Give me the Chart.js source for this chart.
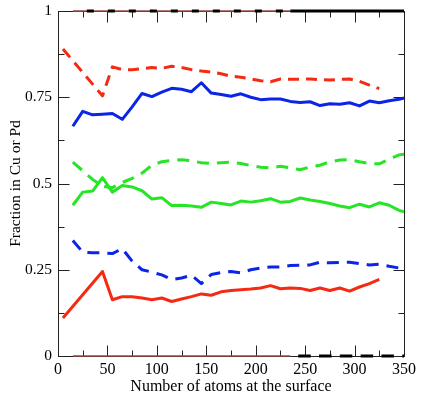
<!DOCTYPE html>
<html><head><meta charset="utf-8">
<script src="https://cdn.jsdelivr.net/npm/chart.js@4/dist/chart.umd.min.js"></script>
<style>html,body{margin:0;padding:0;background:#fff}</style>
</head><body>
<canvas id="c" width="436" height="399"></canvas>
<script>
// x positions (number of atoms at the surface)
const xRed = [5,45,55,65,75,85,95,105,115,125,135,145,155,165,175,185,195,205,215,225,235,245,255,265,275,285,295,305,315,325];
const xFull = [15,25,35,45,55,65,75,85,95,105,115,125,135,145,155,165,175,185,195,205,215,225,235,245,255,265,275,285,295,305,315,325,335,345,350];

// series values (fraction in Cu or Pd)
const redSolid = [0.110,0.245,0.163,0.172,0.172,0.168,0.163,0.168,0.158,0.165,0.172,0.180,0.176,0.186,0.190,0.192,0.194,0.197,0.204,0.195,0.197,0.196,0.190,0.197,0.190,0.197,0.188,0.200,0.210,0.222];
const redDashed = [0.890,0.754,0.838,0.830,0.830,0.833,0.836,0.834,0.840,0.836,0.830,0.826,0.823,0.818,0.811,0.808,0.803,0.798,0.795,0.803,0.802,0.802,0.803,0.801,0.800,0.802,0.803,0.796,0.785,0.775];
const blueSolid = [0.666,0.709,0.699,0.701,0.703,0.686,0.722,0.761,0.752,0.765,0.776,0.773,0.766,0.792,0.762,0.758,0.753,0.760,0.750,0.743,0.745,0.745,0.738,0.735,0.737,0.726,0.731,0.730,0.734,0.725,0.739,0.734,0.740,0.744,0.748];
const blueDashed = [0.335,0.301,0.299,0.299,0.297,0.311,0.275,0.250,0.243,0.235,0.222,0.226,0.234,0.210,0.236,0.242,0.245,0.241,0.250,0.255,0.258,0.258,0.262,0.263,0.264,0.272,0.270,0.271,0.272,0.268,0.264,0.266,0.260,0.255,0.253];
const greenSolid = [0.437,0.475,0.478,0.517,0.475,0.494,0.490,0.479,0.455,0.459,0.436,0.437,0.435,0.431,0.446,0.442,0.438,0.449,0.446,0.450,0.456,0.446,0.448,0.458,0.452,0.448,0.442,0.435,0.430,0.440,0.432,0.444,0.437,0.422,0.418];
const greenDashed = [0.562,0.537,0.512,0.492,0.488,0.503,0.515,0.530,0.553,0.563,0.567,0.569,0.566,0.560,0.558,0.560,0.562,0.558,0.552,0.547,0.545,0.550,0.545,0.540,0.548,0.553,0.563,0.568,0.569,0.563,0.558,0.557,0.570,0.583,0.585];

// series lying on the frame
const xEdgeA = [15,235];
const xEdgeB = [235,350];
const xEdgeC = [243,350];
const edgeTop = [1,1];
const edgeBottom = [0,0];

// axis ticks
const xTickStep = 50, xMinorStep = 25;
const yTickStep = 0.25, yMinorStep = 0.125;

const pts = (xs, ys) => xs.map((x, i) => ({x, y: ys[i]}));

const RED = '#f52a12', BLUE = '#0b25e6', GREEN = '#27e427', BROWN = '#9a4a44';

function ds(data, color, dash, width, extra) {
  return Object.assign({
    data, borderColor: color, backgroundColor: color, borderWidth: width,
    borderDash: dash || [], pointRadius: 0, tension: 0, fill: false, clip: false,
    borderCapStyle: 'butt', borderJoinStyle: 'round'
  }, extra || {});
}

const frame = {
  id: 'frame',
  beforeDatasetsDraw(chart) {
    const {ctx, chartArea: a, scales: {x, y}} = chart;
    ctx.save();
    ctx.strokeStyle = '#222';
    ctx.lineWidth = 1;
    const L = Math.round(a.left) + 0.5, R = Math.round(a.right) + 0.5;
    const T = Math.round(a.top) + 0.5, B = Math.round(a.bottom) + 0.5;
    ctx.strokeRect(L, T, R - L, B - T);
    ctx.beginPath();
    for (let v = x.min; v <= x.max + 1e-9; v += xMinorStep) {
      const len = (Math.abs(v % xTickStep) < 1e-9) ? 11 : 6;
      const px = Math.round(x.getPixelForValue(v)) + 0.5;
      ctx.moveTo(px, B); ctx.lineTo(px, B - len);
      ctx.moveTo(px, T); ctx.lineTo(px, T + len);
    }
    for (let v = y.min; v <= y.max + 1e-9; v += yMinorStep) {
      const r = v / yTickStep;
      const len = (Math.abs(r - Math.round(r)) < 1e-9) ? 11 : 6;
      const py = Math.round(y.getPixelForValue(v)) + 0.5;
      ctx.moveTo(L, py); ctx.lineTo(L + len, py);
      ctx.moveTo(R, py); ctx.lineTo(R - len, py);
    }
    ctx.stroke();
    ctx.restore();
  }
};

const FONT = 'Liberation Serif, Times New Roman, serif';

new Chart(document.getElementById('c'), {
  type: 'line',
  data: {
    datasets: [
      ds(pts(xRed, redSolid), RED, [], 3),
      ds(pts(xRed, redDashed), RED, [11, 7], 3),
      ds(pts(xFull, blueSolid), BLUE, [], 3),
      ds(pts(xFull, blueDashed), BLUE, [12, 8], 3),
      ds(pts(xFull, greenSolid), GREEN, [], 3),
      ds(pts(xFull, greenDashed), GREEN, [12, 8], 3),
      ds(pts(xEdgeA, edgeTop), '#000', [7, 14], 3, {borderDashOffset: 7}),
      ds(pts(xEdgeB, edgeTop), '#000', [], 3),
      ds(pts(xEdgeC, edgeBottom), '#000', [12.5, 8.3], 3),
      ds(pts(xEdgeA, edgeTop), BROWN, [], 1.5),
      ds(pts(xEdgeA, edgeBottom), BROWN, [], 1.5)
    ]
  },
  options: {
    responsive: false,
    animation: false,
    events: [],
    layout: {padding: {left: 0, top: 11, right: 32, bottom: 0}},
    plugins: {legend: {display: false}, tooltip: {enabled: false}},
    scales: {
      x: {
        type: 'linear', min: 0, max: 350,
        grid: {display: false, drawTicks: false},
        border: {display: false},
        ticks: {stepSize: xTickStep, color: '#000', padding: 4, maxRotation: 0,
                font: {family: FONT, size: 16}},
        title: {display: true, text: 'Number of atoms at the surface', color: '#000',
                font: {family: FONT, size: 16}, padding: {top: 0, bottom: 3}},
        afterFit(s) { s.height = 43; s.paddingLeft = 0; s.paddingRight = 0; }
      },
      y: {
        type: 'linear', min: 0, max: 1,
        grid: {display: false, drawTicks: false},
        border: {display: false},
        ticks: {stepSize: yTickStep, color: '#000', padding: 6,
                font: {family: FONT, size: 15.5},
                callback: (v) => String(Math.round(v * 1000) / 1000)},
        title: {display: true, text: 'Fraction in Cu or Pd', color: '#000',
                font: {family: FONT, size: 15.5}, padding: {top: 7, bottom: 0}},
        afterFit(s) { s.width = 58; s.paddingTop = 0; s.paddingBottom = 0; }
      }
    }
  },
  plugins: [frame]
});
</script>
</body></html>
